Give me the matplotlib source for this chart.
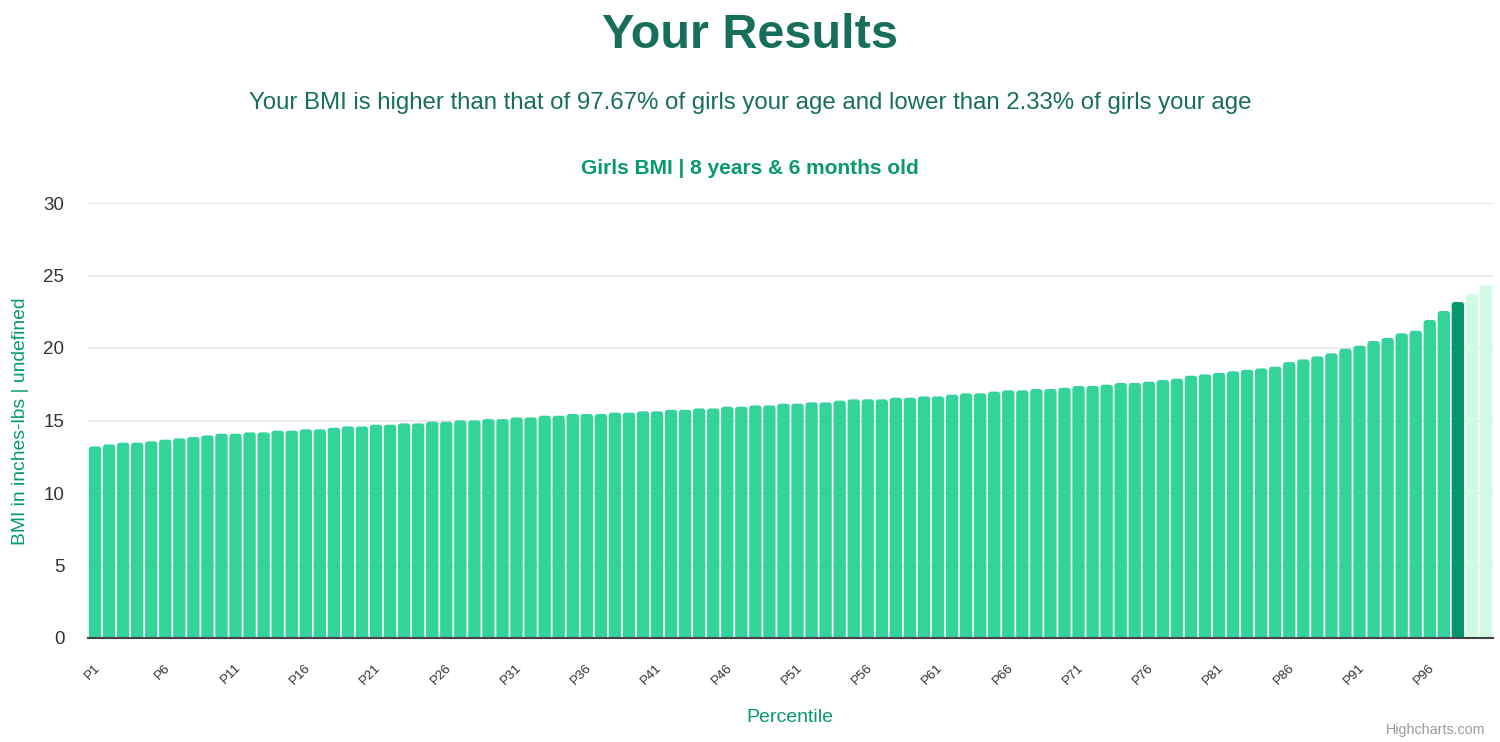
import numpy as np
import matplotlib
matplotlib.use("Agg")
import matplotlib.pyplot as plt
from matplotlib.patches import FancyBboxPatch
import matplotlib.transforms as mtransforms

# --------- Daten --------------
percentiles = [f"P{i}" for i in range(1, 101)]
bmi_values = [
    13.21, 13.35, 13.47, 13.47, 13.56, 13.68, 13.77, 13.86, 13.97, 14.09,
    14.09, 14.18, 14.18, 14.30, 14.30, 14.39, 14.39, 14.50, 14.59, 14.59,
    14.71, 14.71, 14.80, 14.80, 14.92, 14.92, 15.01, 15.01, 15.10, 15.10,
    15.21, 15.21, 15.33, 15.33, 15.45, 15.45, 15.45, 15.54, 15.54, 15.63,
    15.63, 15.74, 15.74, 15.83, 15.83, 15.95, 15.95, 16.04, 16.04, 16.16,
    16.16, 16.25, 16.25, 16.37, 16.46, 16.46, 16.46, 16.57, 16.57, 16.66,
    16.66, 16.78, 16.87, 16.87, 16.99, 17.08, 17.08, 17.17, 17.17, 17.26,
    17.38, 17.38, 17.47, 17.59, 17.59, 17.68, 17.79, 17.88, 18.09, 18.18,
    18.28, 18.39, 18.50, 18.59, 18.71, 19.03, 19.21, 19.42, 19.63, 19.95,
    20.16, 20.48, 20.69, 21.01, 21.19, 21.93, 22.55, 23.17, 23.70, 24.32,
]
your_percentile = "P98"
y_ticks = [0, 5, 10, 15, 20, 25, 30]

# --------- Farben --------------
c_bar = "#34d399"
c_you = "#059669"
c_above = "#d1fae5"
c_title = "#176f5b"
c_green = "#079a6a"
c_text = "#333333"

plt.rcParams["font.family"] = ["Liberation Sans", "DejaVu Sans"]

fig = plt.figure(figsize=(15, 7.42), dpi=100)
ax = fig.add_axes([88 / 1500, 1 - 638 / 742, 1405 / 1500, 435 / 742])

x = np.arange(len(bmi_values))
you_idx = percentiles.index(your_percentile)
colors = [c_bar if i < you_idx else (c_you if i == you_idx else c_above) for i in x]

bars = ax.bar(x, bmi_values, width=0.88, color=colors)
# Balken mit runden Ecken ersetzen
for rect, col in zip(bars, colors):
    bx, bw, bh = rect.get_x(), rect.get_width(), rect.get_height()
    rect.set_visible(False)
    p = FancyBboxPatch((bx, -1), bw, bh + 1,
                       boxstyle="round,pad=0,rounding_size=0.22",
                       mutation_aspect=1.0, fc=col, ec="none", zorder=2)
    ax.add_patch(p)

ax.set_xlim(-0.5, len(bmi_values) - 0.5)
ax.set_ylim(0, 30)
ax.set_yticks(y_ticks)
ax.set_yticklabels([str(t) for t in y_ticks], fontsize=13.5, color=c_text)
ax.yaxis.grid(True, color="#e6e6e6", linewidth=1.2)
ax.set_axisbelow(True)
ax.tick_params(axis="y", length=0, pad=17)

ax.set_xticks(x[::5])
ax.set_xticklabels(percentiles[::5], rotation=45, ha="right", va="center",
                   rotation_mode="anchor", fontsize=9.6, color=c_text)
ax.tick_params(axis="x", length=0, pad=20)
offset = mtransforms.ScaledTranslation(3 / 100, 0, fig.dpi_scale_trans)
for lab in ax.get_xticklabels():
    lab.set_transform(lab.get_transform() + offset)

for s in ["top", "right", "left", "bottom"]:
    ax.spines[s].set_visible(False)
ax.axhline(0, color="#444444", linewidth=1.5, zorder=4, clip_on=False)

# --------- Texte --------------
fig.text(0.5, 1 - 35 / 742, "Your Results", ha="center", va="center",
         fontsize=35, fontweight="bold", color=c_title)
fig.text(0.5, 1 - 103 / 742,
         "Your BMI is higher than that of 97.67% of girls your age and lower than 2.33% of girls your age",
         ha="center", va="center", fontsize=17.3, color=c_title)
fig.text(0.5, 1 - 168 / 742, "Girls BMI | 8 years & 6 months old",
         ha="center", va="center", fontsize=15, fontweight="bold", color=c_green)
fig.text(21 / 1500, 1 - 421 / 742, "BMI in inches-lbs | undefined", rotation=90,
         ha="center", va="center", fontsize=13.9, color=c_green)
fig.text(790 / 1500, 1 - 717 / 742, "Percentile", ha="center", va="center",
         fontsize=14, color=c_green)
fig.text(1485 / 1500, 1 - 730 / 742, "Highcharts.com", ha="right", va="center",
         fontsize=10.3, color="#999999")

fig.savefig("out.png", dpi=100)
